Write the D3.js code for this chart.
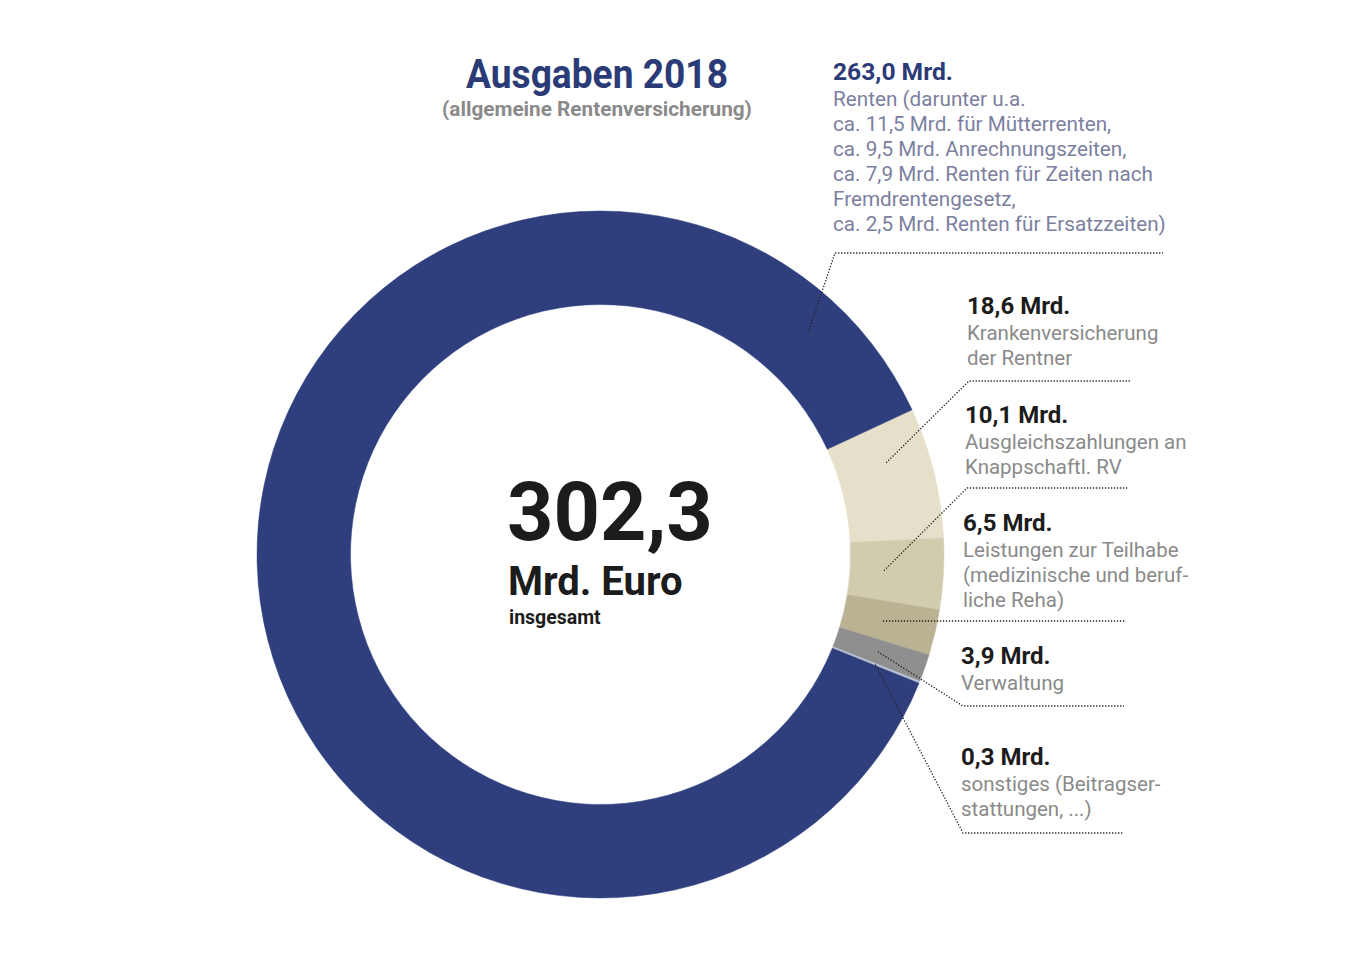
<!DOCTYPE html>
<html>
<head>
<meta charset="utf-8">
<script src="https://cdn.jsdelivr.net/npm/d3@7"></script>
<style>
  body { margin: 0; background: #fff; }
  svg { display: block; font-family: Roboto, "Noto Sans", sans-serif; }
</style>
</head>
<body>
<div id="chart"></div>
<script>
// Data: Ausgaben 2018, allgemeine Rentenversicherung (Mrd. Euro)
const categories = ["Krankenversicherung", "Ausgleichszahlungen", "Teilhabe", "Verwaltung", "sonstiges", "Renten"];
const values = [18.6, 10.1, 6.5, 3.9, 0.3, 263.0];
const valueLabels = ["18,6 Mrd.", "10,1 Mrd.", "6,5 Mrd.", "3,9 Mrd.", "0,3 Mrd.", "263,0 Mrd."];
const descriptions = [
  ["Krankenversicherung", "der Rentner"],
  ["Ausgleichszahlungen an", "Knappschaftl. RV"],
  ["Leistungen zur Teilhabe", "(medizinische und beruf-", "liche Reha)"],
  ["Verwaltung"],
  ["sonstiges (Beitragser-", "stattungen, ...)"],
  ["Renten (darunter u.a.", "ca. 11,5 Mrd. für Mütterrenten,", "ca. 9,5 Mrd. Anrechnungszeiten,",
   "ca. 7,9 Mrd. Renten für Zeiten nach", "Fremdrentengesetz,", "ca. 2,5 Mrd. Renten für Ersatzzeiten)"]
];
const total = "302,3";

const width = 1353, height = 958;
const cx = 600.5, cy = 554.5;
const outerR = 343.5, innerR = 250;

const color = d3.scaleOrdinal()
  .domain(categories)
  .range(["#e6e0cb", "#d1ccae", "#bab292", "#8f8f8f", "#bcc5da", "#2f3f7e"]);

const svg = d3.select("#chart")
  .append("svg")
    .attr("width", width)
    .attr("height", height);

// Donut
const deg = Math.PI / 180;
const start = 65.1 * deg;
const pie = d3.pie().sort(null).value(d => d.value)
  .startAngle(start).endAngle(start + 2 * Math.PI);
const arcs = pie(categories.map((c, i) => ({ key: c, value: values[i] })));
const arc = d3.arc().innerRadius(innerR).outerRadius(outerR);

const g = svg.append("g").attr("transform", `translate(${cx},${cy})`);
g.selectAll("path")
  .data(arcs)
  .enter().append("path")
    .attr("d", arc)
    .attr("fill", d => color(d.data.key))
    .attr("stroke", d => color(d.data.key))
    .attr("stroke-width", 0.5);

// Label layout (x, baseline of value, underline y/extent, anchor angle/radius)
const labelLayout = [
  { x: 967, y: 314, lineY: 381, lineX2: 1130, angle: 72.2, r: 300 },
  { x: 965, y: 423, lineY: 488, lineX2: 1128, angle: null, r: 284 },
  { x: 963, y: 531, lineY: 621, lineX2: 1126, angle: null, r: 290, flat: true },
  { x: 961, y: 664, lineY: 706, lineX2: 1124, angle: null, r: 294 },
  { x: 961, y: 765, lineY: 833, lineX2: 1124, angle: null, r: 296 },
  { x: 833, y: 80, lineY: 253, lineX2: 1163, angle: 43.1, r: 304 }
];

function anchorPoint(a, lay) {
  const ang = lay.angle != null ? lay.angle * deg : (a.startAngle + a.endAngle) / 2;
  return [cx + lay.r * Math.sin(ang), cy - lay.r * Math.cos(ang)];
}

const labels = svg.append("g");
arcs.forEach((a, i) => {
  const lay = labelLayout[i];
  const isRenten = a.data.key === "Renten";
  const grp = labels.append("g");

  const vt = grp.append("text")
    .attr("x", lay.x)
    .attr("y", lay.y)
    .style("font-size", "24px")
    .style("font-weight", 700)
    .attr("fill", isRenten ? "#2b3b77" : "#1c1c1c")
    .text(valueLabels[i]);

  const dg = grp.append("g");
  descriptions[i].forEach((line, j) => {
    dg.append("text")
      .attr("x", lay.x)
      .attr("y", lay.y + 26 + j * 25)
      .style("font-size", "20.5px")
      .attr("fill", isRenten ? "#7c809f" : "#8a8a8a")
      .text(line);
  });

  if (isRenten) {
    // condensed look: squeeze horizontally around label x
    let maxW = 0;
    dg.selectAll("text").each(function () { maxW = Math.max(maxW, this.getComputedTextLength()); });
    const s = 333 / maxW;
    dg.attr("transform", `translate(${lay.x},0) scale(${s},1) translate(${-lay.x},0)`);
    const vs = 120 / vt.node().getComputedTextLength();
    vt.attr("transform", `translate(${lay.x},0) scale(${vs},1) translate(${-lay.x},0)`);
  }

  // dotted leader + underline
  const p = anchorPoint(a, lay);
  const pts = lay.flat
    ? [[p[0], lay.lineY], [lay.lineX2, lay.lineY]]
    : [p, [lay.x + 2, lay.lineY], [lay.lineX2, lay.lineY]];
  grp.append("path")
    .attr("d", d3.line()(pts))
    .attr("fill", "none")
    .attr("stroke", "#222")
    .attr("stroke-width", 1.3)
    .attr("stroke-dasharray", "1.3,1.7");
});

// Title
const title = svg.append("text")
  .attr("x", 597)
  .attr("y", 88)
  .attr("text-anchor", "middle")
  .style("font-size", "41px")
  .style("font-weight", 700)
  .attr("fill", "#2b3b77")
  .text("Ausgaben 2018");
const sub = svg.append("text")
  .attr("x", 597)
  .attr("y", 116)
  .attr("text-anchor", "middle")
  .style("font-size", "21px")
  .style("font-weight", 700)
  .attr("fill", "#8a8a8a")
  .text("(allgemeine Rentenversicherung)");
[[title, 262], [sub, 310]].forEach(([t, w]) => {
  const s = w / t.node().getComputedTextLength();
  t.attr("transform", `translate(597,0) scale(${s},1) translate(-597,0)`);
});

// Centre text
svg.append("text")
  .attr("x", 507)
  .attr("y", 540)
  .style("font-size", "81px")
  .style("font-weight", 700)
  .attr("fill", "#1c1c1c")
  .text(total);
svg.append("text")
  .attr("x", 508)
  .attr("y", 595)
  .style("font-size", "40px")
  .style("font-weight", 700)
  .attr("fill", "#1c1c1c")
  .text("Mrd. Euro");
svg.append("text")
  .attr("x", 509)
  .attr("y", 624)
  .style("font-size", "19.5px")
  .style("font-weight", 700)
  .attr("fill", "#1c1c1c")
  .text("insgesamt");
</script>
</body>
</html>
